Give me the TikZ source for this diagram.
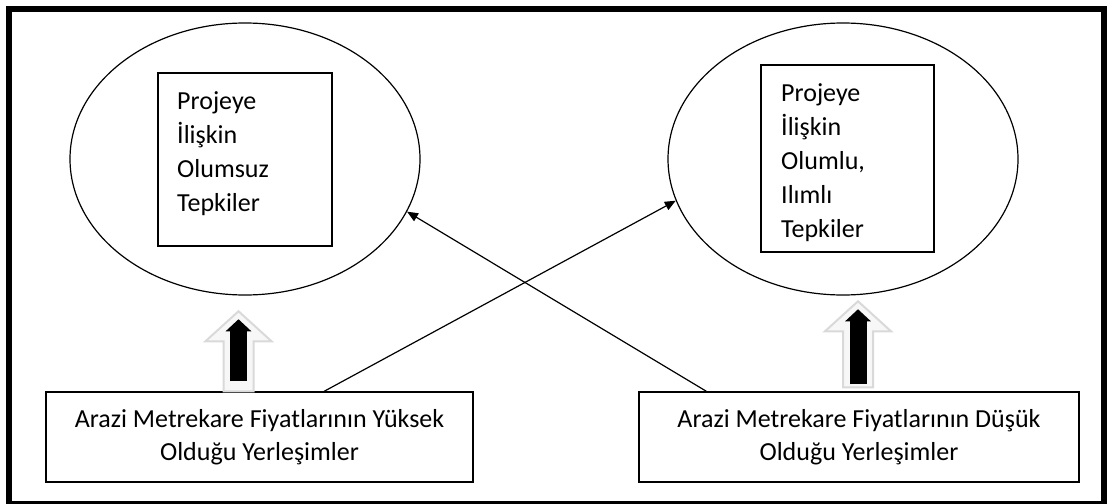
\documentclass[tikz,border=0pt]{standalone}
\usepackage{fontspec}
\setmainfont{Carlito}
\usetikzlibrary{shapes.geometric, arrows.meta}

\tikzset{
  oval/.style={draw, ellipse, line width=1.2pt, minimum width=350pt, minimum height=272pt, inner sep=0pt},
  framebox/.style={draw, line width=1.5pt, inner sep=0pt},
  boxtext/.style={anchor=north west, align=left, inner sep=0pt, font=\fontsize{26}{34}\selectfont},
  sitebox/.style={draw, line width=1.5pt, minimum height=90pt, align=center, font=\fontsize{26}{33}\selectfont},
  link/.style={line width=1.2pt, -{Triangle[length=11pt, width=9pt]}},
  hollow/.style={fill=gray!6, draw=gray!30, line width=2pt},
  blackup/.style={line width=17pt, -{Triangle[length=12pt, width=25pt]}}
}

\begin{document}
\begin{tikzpicture}[x=1pt, y=-1pt]
      \useasboundingbox (0,0) rectangle (1107,503);
      \draw[line width=6pt] (9,9) rectangle (1104,504);
      % reactions
      \node[oval] (negell) at (245,159) {};
      \node[oval] (posell) at (843,159) {};
      \node[framebox, minimum width=174pt, minimum height=173pt] (negbox) at (245,159.5) {};
      \node[framebox, minimum width=173pt, minimum height=187pt] (posbox) at (847.5,158.5) {};
      \node[boxtext] (negtext) at (177,91) {Projeye\\İlişkin\\Olumsuz\\Tepkiler};
      \node[boxtext] (postext) at (781,83) {Projeye\\İlişkin\\Olumlu,\\Ilımlı\\Tepkiler};
      % settlements
      \node[sitebox, minimum width=427pt] (highbox) at (259.5,437) {Arazi Metrekare Fiyatlarının Yüksek\\Olduğu Yerleşimler};
      \node[sitebox, minimum width=440pt] (lowbox) at (859,437) {Arazi Metrekare Fiyatlarının Düşük\\Olduğu Yerleşimler};
      % block arrows
      \coordinate (hup) at ([xshift=-21pt]highbox.north);
      \coordinate (lup) at ([xshift=-1pt, yshift=4pt]lowbox.north);
      \filldraw[hollow] (hup) ++(-15,0) -- ++(0,-50) -- ++(-18,0) -- ++(33,-30) -- ++(33,30) -- ++(-18,0) -- ++(0,50) -- cycle;
      \filldraw[hollow] (lup) ++(-15,0) -- ++(0,-56) -- ++(-18,0) -- ++(33,-30) -- ++(33,30) -- ++(-18,0) -- ++(0,56) -- cycle;
      \draw[blackup] ([yshift=10pt]hup) -- ([yshift=72pt]hup);
      \draw[blackup] ([yshift=3pt]lup) -- ([yshift=78pt]lup);
      % crossing links
      \draw[link] ([xshift=279pt]highbox.north west) -- (posell.194);
      \draw[link] ([xshift=68pt]lowbox.north west) -- (negell.342);
\end{tikzpicture}
\end{document}
